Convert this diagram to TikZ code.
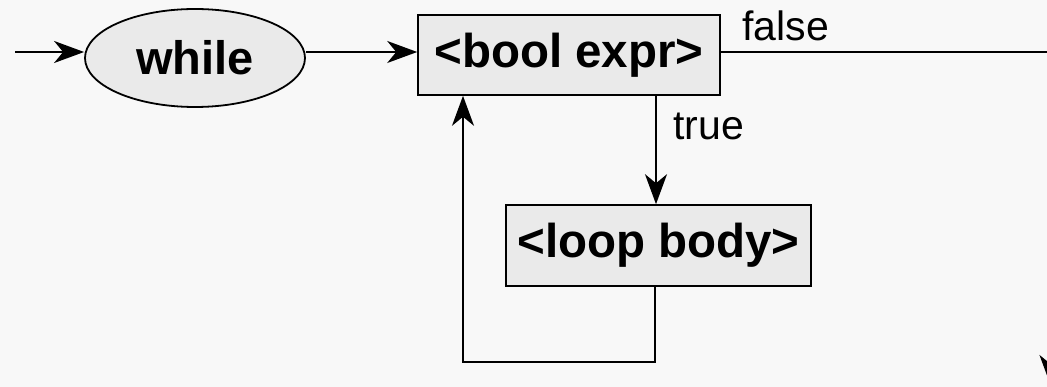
\documentclass[tikz,border=0pt]{standalone}
\usepackage{fontspec}
\setmainfont{Liberation Sans}
\usetikzlibrary{arrows.meta,shapes.geometric}
\definecolor{bg}{HTML}{F8F8F8}
\definecolor{boxfill}{HTML}{EAEAEA}
\begin{document}
\begin{tikzpicture}[x=1pt,y=-1pt,
  arr/.style={-{Stealth[length=30pt,width=22pt,inset=9pt]}},
  wire/.style={line width=2pt},
  term/.style={ellipse, draw, line width=1.8pt, fill=boxfill,
    minimum width=220pt, minimum height=98pt, inner sep=0pt,
    font=\fontsize{47}{56}\selectfont\bfseries},
  nonterm/.style={rectangle, draw, line width=1.6pt, fill=boxfill,
    inner sep=0pt, font=\fontsize{47.5}{56}\selectfont\bfseries},
  lbl/.style={inner sep=0pt, anchor=base west,
    font=\fontsize{41}{49}\selectfont}]
\useasboundingbox (0,0) rectangle (1047,387);
\fill[bg] (0,0) rectangle (1047,387);
\clip (0,0) rectangle (1047,387);

% syntax elements
\node[term] (wh) at (195,58) {while};
\node[nonterm, minimum width=302pt, minimum height=80pt] (be) at (569,55) {<bool expr>};
\node[nonterm, minimum width=305pt, minimum height=81pt] (lb) at (658.5,245.5) {<loop body>};

% routing points
\coordinate (in) at (15,52);
\coordinate (exit) at (1050.5,385);
\coordinate (tx) at (656,0);
\coordinate (back) at (655,362);
\coordinate (backL) at (463,362);

% connectors
\draw[wire,arr] (in) -- (wh.west |- in);
\draw[wire,arr] (wh.east |- in) -- (be.west |- in);
\draw[wire,arr] (be.east |- in) -| (exit);
\draw[wire,arr] (be.south -| tx) -- (lb.north -| tx);
\draw[wire,arr] (lb.south -| back) -- (back) -- (backL) -- (be.south -| backL);

% branch labels
\node[lbl] (lf) at (742,41) {false};
\node[lbl] (lt) at (673,140) {true};
\end{tikzpicture}
\end{document}
